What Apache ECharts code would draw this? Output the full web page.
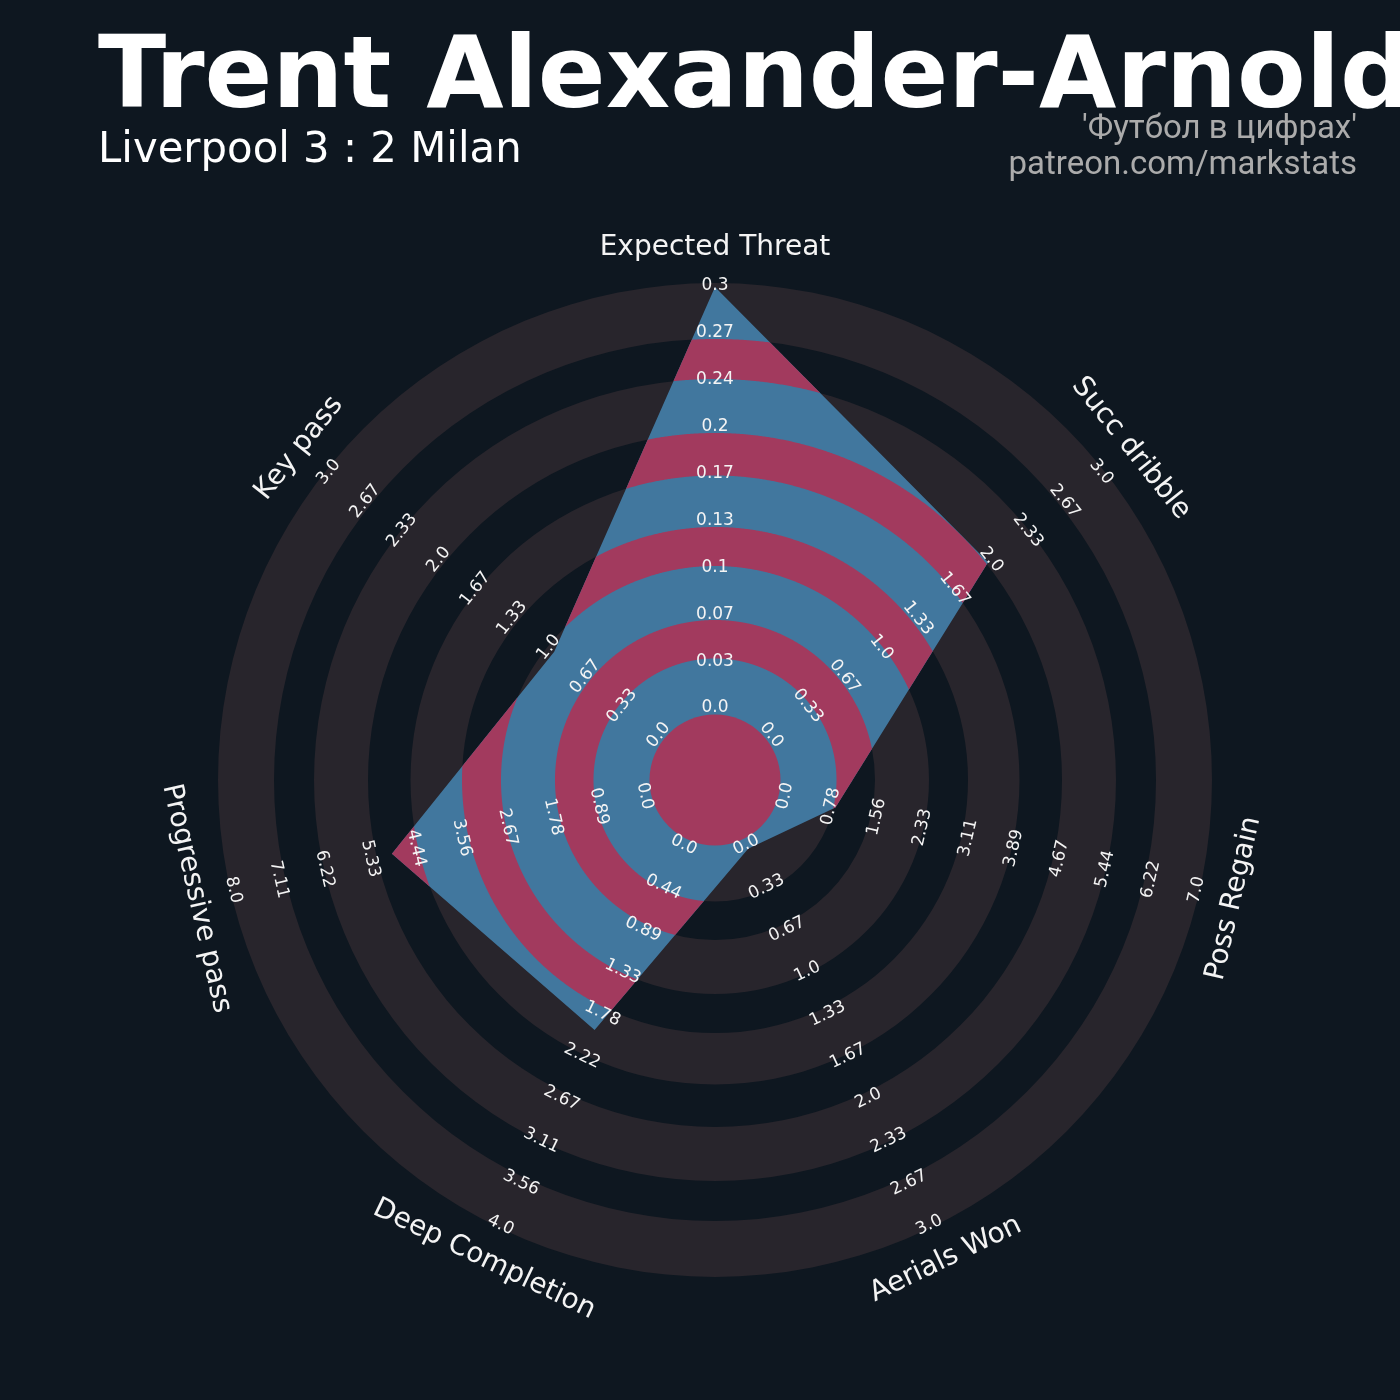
<!DOCTYPE html>
<html>
<head>
<meta charset="utf-8">
<script src="https://cdn.jsdelivr.net/npm/echarts@6/dist/echarts.min.js"></script>
<style>
html,body{margin:0;padding:0;background:#0e1720;}
#chart{width:1400px;height:1400px;}
</style>
</head>
<body>
<div id="chart"></div>
<script>
// ---------------- DATA ----------------
const params = ['Expected Threat', 'Succ dribble', 'Poss Regain', 'Aerials Won', 'Deep Completion', 'Progressive pass', 'Key pass'];
const rangeMin = [0, 0, 0, 0, 0, 0, 0];
const rangeMax = [0.3, 3, 7, 3, 4, 8, 3];
const values = [0.3, 2, 1, 0.1, 2, 5, 1];
const tickLabels = [
  ['0.0', '0.03', '0.07', '0.1', '0.13', '0.17', '0.2', '0.24', '0.27', '0.3'],
  ['0.0', '0.33', '0.67', '1.0', '1.33', '1.67', '2.0', '2.33', '2.67', '3.0'],
  ['0.0', '0.78', '1.56', '2.33', '3.11', '3.89', '4.67', '5.44', '6.22', '7.0'],
  ['0.0', '0.33', '0.67', '1.0', '1.33', '1.67', '2.0', '2.33', '2.67', '3.0'],
  ['0.0', '0.44', '0.89', '1.33', '1.78', '2.22', '2.67', '3.11', '3.56', '4.0'],
  ['0.0', '0.89', '1.78', '2.67', '3.56', '4.44', '5.33', '6.22', '7.11', '8.0'],
  ['0.0', '0.33', '0.67', '1.0', '1.33', '1.67', '2.0', '2.33', '2.67', '3.0']
];
const titleText = 'Trent Alexander-Arnold';
const subtitleText = 'Liverpool 3 : 2 Milan';
const creditLines = ["'Футбол в цифрах'", 'patreon.com/markstats'];

// ---------------- LAYOUT / STYLE ----------------
const BG = '#0e1720', RING = '#28252c', BLUE = '#41779e', PINK = '#a23a5e';
const OUTER_PX = 497;
const L = {
  cx: 715, cy: 780,
  dataR0: 62 / OUTER_PX, dataR1: 493 / OUTER_PX,
  tickR0: 72 / OUTER_PX, tickR1: 494 / OUTER_PX,
  nameR: 532 / OUTER_PX,
  grayBands: [[65.5, 121.5], [160, 214], [253, 304.5], [347, 401], [441, 497]].map(b => b.map(v => v / OUTER_PX)),
  pinkBands: [[0, 65.5], [121.5, 160], [214, 253], [304.5, 347], [401, 441]].map(b => b.map(v => v / OUTER_PX))
};
const N = params.length;
const angleOf = i => i * 360 / N;
function radial(i, v) {
  const f = (v - rangeMin[i]) / (rangeMax[i] - rangeMin[i]);
  return L.dataR0 + f * (L.dataR1 - L.dataR0);
}
function textRot(deg) {
  let r = -deg;
  while (r <= -90) r += 180;
  while (r > 90) r -= 180;
  return r * Math.PI / 180;
}
const polyData = values.map((v, i) => [radial(i, v), angleOf(i)]);

// radius of the radar polygon along a direction (data space, polar)
function polyRadiusAt(deg) {
  const t = ((deg % 360) + 360) % 360;
  const step = 360 / N;
  let i = Math.floor(t / step + 1e-12); if (i >= N) i = N - 1;
  const j = (i + 1) % N;
  const a1 = angleOf(i) * Math.PI / 180, a2 = angleOf(j) * Math.PI / 180, th = t * Math.PI / 180;
  const r1 = polyData[i][0], r2 = polyData[j][0];
  const V = [r1 * Math.sin(a1), r1 * Math.cos(a1)];
  const W = [r2 * Math.sin(a2), r2 * Math.cos(a2)];
  const E = [W[0] - V[0], W[1] - V[1]];
  const d = [Math.sin(th), Math.cos(th)];
  const cr = (p, q) => p[0] * q[1] - p[1] * q[0];
  return cr(V, E) / cr(d, E);
}

const SAMPLE = (function () {
  const s = [];
  for (let k = 0; k < 1800; k++) s.push(k * 0.2);
  for (let i = 0; i < N; i++) s.push(angleOf(i));
  s.sort((a, b) => a - b);
  const out = [];
  s.forEach(v => { if (!out.length || Math.abs(v - out[out.length - 1]) > 1e-9) out.push(v); });
  return out;
})();

function bisect(f, lo, hi) {
  let flo = f(lo);
  for (let it = 0; it < 40; it++) {
    const mid = (lo + hi) / 2, fm = f(mid);
    if ((fm > 0) === (flo > 0)) { lo = mid; flo = fm; } else { hi = mid; }
  }
  return (lo + hi) / 2;
}

function renderPink(p, api) {
  const a = api.value(0), b = api.value(1);
  const pt = (r, deg) => api.coord([r, deg]);
  const M = SAMPLE.length;
  const rp = SAMPLE.map(t => polyRadiusAt(t));
  const c = api.coord([0, 0]);
  const style = { fill: PINK };
  const allIn = rp.every(r => r > a + 1e-9);
  if (allIn) {
    const e0 = api.coord([a, 0]), e1 = api.coord([b, 0]);
    const r0px = Math.hypot(e0[0] - c[0], e0[1] - c[1]);
    const r1px = Math.hypot(e1[0] - c[0], e1[1] - c[1]);
    if (rp.every(r => r >= b)) {
      if (a === 0) return { type: 'circle', shape: { cx: c[0], cy: c[1], r: r1px }, style };
      return { type: 'ring', shape: { cx: c[0], cy: c[1], r0: r0px, r: r1px }, style };
    }
    const pts = SAMPLE.map((t, k) => pt(Math.min(b, rp[k]), t));
    if (a > 0) {
      pts.push(pts[0]);
      for (let k = M - 1; k >= 0; k--) pts.push(pt(a, SAMPLE[k]));
      pts.push(pt(a, SAMPLE[M - 1]));
    }
    return { type: 'polygon', shape: { points: pts }, style };
  }
  const k0 = rp.findIndex(r => r <= a + 1e-9);
  const children = [];
  let run = null;
  const f = t => polyRadiusAt(t) - a;
  for (let s = 1; s <= M; s++) {
    const k = (k0 + s) % M;
    const kp = (k0 + s - 1) % M;
    const inside = rp[k] > a + 1e-9;
    const tPrev = SAMPLE[kp] + (k0 + s - 1 >= M ? 360 : 0);
    const tCur = SAMPLE[k] + (k0 + s >= M ? 360 : 0);
    if (inside && !run) {
      const ts = bisect(f, tPrev, tCur);
      run = { outer: [[a, ts]], angles: [ts] };
    }
    if (inside) {
      run.outer.push([Math.min(b, rp[k]), tCur]);
      run.angles.push(tCur);
    }
    if (!inside && run) {
      const te = bisect(f, tPrev, tCur);
      run.outer.push([a, te]);
      run.angles.push(te);
      const pts = run.outer.map(q => pt(q[0], q[1]));
      if (a === 0) {
        pts.push(c);
      } else {
        for (let m = run.angles.length - 1; m >= 0; m--) pts.push(pt(a, run.angles[m]));
      }
      children.push({ type: 'polygon', shape: { points: pts }, style });
      run = null;
    }
  }
  return { type: 'group', children };
}

function ringRender(p, api) {
  const c = api.coord([0, 0]);
  const e0 = api.coord([api.value(0), 0]), e1 = api.coord([api.value(1), 0]);
  return {
    type: 'ring',
    shape: { cx: c[0], cy: c[1], r0: Math.hypot(e0[0] - c[0], e0[1] - c[1]), r: Math.hypot(e1[0] - c[0], e1[1] - c[1]) },
    style: { fill: RING }
  };
}

function polygonRender(p, api) {
  if (p.dataIndex !== 0) return null;
  const pts = polyData.map(d => api.coord(d));
  return { type: 'polygon', shape: { points: pts }, style: { fill: BLUE } };
}

const tickData = [];
tickLabels.forEach((labs, i) => {
  labs.forEach((lab, k) => {
    tickData.push([L.tickR0 + k * (L.tickR1 - L.tickR0) / (labs.length - 1), angleOf(i), i, k]);
  });
});

function tickRender(p, api) {
  const r = api.value(0), ang = api.value(1), i = api.value(2), k = api.value(3);
  const q = api.coord([r, ang]);
  return {
    type: 'text', x: q[0], y: q[1], rotation: textRot(ang),
    style: {
      text: tickLabels[i][k], fill: '#f4f4f4', font: '17px "DejaVu Sans"',
      align: 'center', verticalAlign: 'middle', textAlign: 'center', textVerticalAlign: 'middle'
    }
  };
}

const nameData = params.map((n, i) => [L.nameR, angleOf(i), i]);
function nameRender(p, api) {
  const r = api.value(0), ang = api.value(1), i = api.value(2);
  const q = api.coord([r, ang]);
  return {
    type: 'text', x: q[0], y: q[1], rotation: textRot(ang),
    style: {
      text: params[i], fill: '#f4f4f4', font: '28px "DejaVu Sans"',
      align: 'center', verticalAlign: 'middle', textAlign: 'center', textVerticalAlign: 'middle'
    }
  };
}

const chart = echarts.init(document.getElementById('chart'), null, { renderer: 'canvas', width: 1400, height: 1400 });
chart.setOption({
  backgroundColor: BG,
  animation: false,
  polar: { center: [L.cx, L.cy], radius: OUTER_PX },
  angleAxis: { type: 'value', min: 0, max: 360, startAngle: 90, clockwise: true, show: false },
  radiusAxis: { type: 'value', min: 0, max: 1, show: false },
  graphic: [
    { type: 'text', x: 98, y: 81, style: { text: titleText, fill: '#ffffff', font: 'bold 100px "DejaVu Sans"', align: 'left', verticalAlign: 'middle', textAlign: 'left', textVerticalAlign: 'middle' } },
    { type: 'text', x: 98, y: 151, style: { text: subtitleText, fill: '#ffffff', font: '41.8px "DejaVu Sans"', align: 'left', verticalAlign: 'middle', textAlign: 'left', textVerticalAlign: 'middle' } },
    { type: 'text', x: 1357, y: 130, style: { text: creditLines[0], fill: '#ababab', font: '33px Roboto', align: 'right', verticalAlign: 'middle', textAlign: 'right', textVerticalAlign: 'middle' } },
    { type: 'text', x: 1357, y: 166, style: { text: creditLines[1], fill: '#ababab', font: '33px Roboto', align: 'right', verticalAlign: 'middle', textAlign: 'right', textVerticalAlign: 'middle' } }
  ],
  series: [
    { type: 'custom', coordinateSystem: 'polar', silent: true, z: 1, data: L.grayBands, renderItem: ringRender },
    { type: 'custom', coordinateSystem: 'polar', silent: true, z: 2, data: polyData, renderItem: polygonRender },
    { type: 'custom', coordinateSystem: 'polar', silent: true, z: 3, data: L.pinkBands, renderItem: renderPink },
    { type: 'custom', coordinateSystem: 'polar', silent: true, z: 4, data: tickData, renderItem: tickRender },
    { type: 'custom', coordinateSystem: 'polar', silent: true, z: 5, data: nameData, renderItem: nameRender }
  ]
});
</script>
</body>
</html>
